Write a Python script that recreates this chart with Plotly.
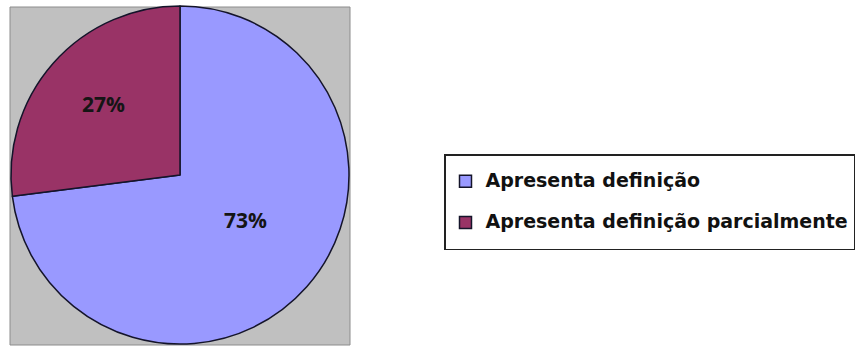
import math
import plotly.graph_objects as go

W, H = 859, 349

labels = ["Apresenta definição", "Apresenta definição parcialmente"]
values = [73, 27]
colors = ["#9999FF", "#993366"]

# plot area (gray square behind the pie), in pixels
box_x0, box_x1 = 10, 350
box_y0, box_y1 = 7, 345

dom_x = [(box_x0 + 1) / W, (box_x1 - 1) / W]
dom_y = [1 - (box_y1 - 1) / H, 1 - (box_y0 - 1) / H]

# legend labels rendered smaller than the legend font so the rows stay widely spaced
legend_labels = [
    f"<span style='font-size:19px;baseline-shift:6px'>{t}</span>" for t in labels
]

fig = go.Figure(
    go.Pie(
        labels=legend_labels,
        values=values,
        sort=False,
        direction="clockwise",
        rotation=0,
        marker=dict(colors=colors, line=dict(color="#14142A", width=1.5)),
        textinfo="none",
        domain=dict(x=dom_x, y=dom_y),
        hovertext=labels,
        hoverinfo="text+percent",
    )
)

# percentage labels placed near each slice's mid-angle
cx = (dom_x[0] + dom_x[1]) / 2
cy = (dom_y[0] + dom_y[1]) / 2
radius_px = (box_x1 - box_x0 - 2) / 2
radial_frac = [0.47, 0.62]
angle_shift_deg = [-7.0, 1.5]
total = sum(values)
start = 0.0
for v, rf, sh in zip(values, radial_frac, angle_shift_deg):
    mid = (start + v / 2) / total * 2 * math.pi + math.radians(sh)  # clockwise from 12 o'clock
    start += v
    dx = rf * radius_px * math.sin(mid)
    dy = rf * radius_px * math.cos(mid)
    fig.add_annotation(
        xref="paper", yref="paper",
        x=cx + dx / W, y=cy + dy / H,
        text=f"{round(v / total * 100)}%",
        showarrow=False,
        font=dict(family="Open Sans", size=21, color="#151515", weight="bold"),
        xanchor="center", yanchor="middle",
    )

fig.add_shape(
    type="rect",
    xref="paper", yref="paper",
    x0=box_x0 / W, x1=box_x1 / W,
    y0=1 - box_y1 / H, y1=1 - box_y0 / H,
    fillcolor="#C0C0C0",
    line=dict(color="#8C8C8C", width=1),
    layer="below",
)

fig.update_layout(
    width=W,
    height=H,
    margin=dict(l=0, r=0, t=0, b=0, autoexpand=False),
    paper_bgcolor="white",
    plot_bgcolor="white",
    showlegend=True,
    legend=dict(
        x=444 / W,
        y=1 - 154 / H,
        xanchor="left",
        yanchor="top",
        bordercolor="#222222",
        borderwidth=1.5,
        bgcolor="white",
        font=dict(family="DejaVu Sans", size=29.5, color="#111111", weight="bold"),
        traceorder="normal",
        tracegroupgap=0,
    ),
)

fig.write_html("out.html")
